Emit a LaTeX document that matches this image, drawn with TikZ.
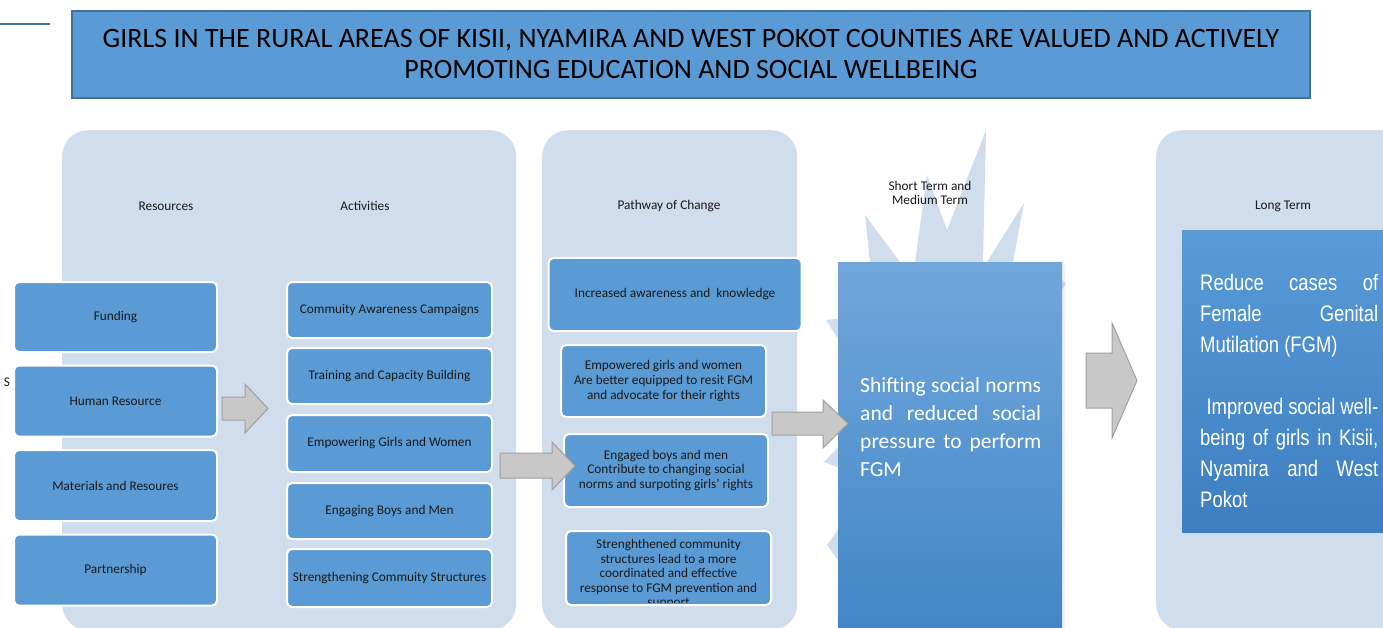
\documentclass[tikz,border=0pt]{standalone}
\usepackage{fontspec}
\setmainfont{Carlito}
\newfontfamily\narrowfont[FakeStretch=0.82]{Liberation Sans}
\usetikzlibrary{calc,shadows}

\definecolor{panelblue}{RGB}{207,221,237}
\definecolor{boxblue}{RGB}{91,155,213}
\definecolor{edgeblue}{RGB}{65,113,156}
\definecolor{arrowgray}{RGB}{200,200,200}
\definecolor{arrowedge}{RGB}{160,160,160}

\begin{document}
\begin{tikzpicture}[x=1pt,y=-1pt]
       \tikzstyle{frame} = [rectangle, draw=edgeblue, line width=1.5pt, fill=boxblue, align=center, inner sep=0pt, font=\fontsize{28}{31}\selectfont];
       \tikzstyle{panel} = [rectangle, fill=panelblue, rounded corners=26pt, anchor=north west, inner sep=0pt, minimum height=500pt];
       \tikzstyle{item} = [rectangle, draw=white, line width=2pt, fill=boxblue, rounded corners=5pt, align=center, inner sep=0pt, text=black!90, font=\fontsize{13.3}{14.7}\selectfont];
       \tikzstyle{head} = [align=center, text=black!90, font=\fontsize{13.3}{14}\selectfont];
       \tikzstyle{bigbox} = [rectangle, anchor=north west, inner sep=0pt];
       \tikzstyle{blockarrow} = [fill=arrowgray, draw=arrowedge, line width=1pt, line join=miter];

       \clip (0,0) rectangle (1383,628);

       % goal
       \coordinate (stub) at (50,24);
       \draw[edgeblue, line width=1.8pt] (0,24) -- (stub);
       \node[frame, minimum width=1238pt, minimum height=87pt] (goal) at (691,54.5)
         {GIRLS IN THE RURAL AREAS OF KISII, NYAMIRA AND WEST POKOT COUNTIES ARE VALUED AND ACTIVELY\\PROMOTING EDUCATION AND SOCIAL WELLBEING};

       % panels
       \node[panel, minimum width=454pt] (inputs) at (62,130) {};
       \node[panel, minimum width=255pt] (pathway) at (542,130) {};
       \node[panel, minimum width=260pt] (longpanel) at (1156,130) {};
       \fill[panelblue] (865,215) -- (900,262) -- (907,275) -- (915,262) -- (927,175) -- (947,230)
         -- (986,130) -- (983,262) -- (985,270) -- (987,262) -- (1024,203) -- (1013,262)
         -- (1062,280) -- (1066,284) -- (1040,320) -- (1040,570) -- (845,570) -- (827,545)
         -- (845,520) -- (845,470) -- (824,462) -- (845,440) -- (845,350) -- (826,320)
         -- (845,318) -- (870,262) -- cycle;

       % column heads
       \node[head] (reshead) at (166,206) {Resources};
       \node[head] (acthead) at (365,206) {Activities};
       \node[head] (pathhead) at (669,206) {Pathway of Change};
       \node[head] (shorthead) at (930,193) {Short Term and\\Medium Term};
       \node[head] (longhead) at (1283,206) {Long Term};
       \node[head] (s) at (7,382) {S};

       % resources
       \node[item, minimum width=203pt, minimum height=70pt] (funding) at (115.5,317) {Funding};
       \node[item, minimum width=203pt, minimum height=71pt] (human) at (115.5,401) {Human Resource};
       \node[item, minimum width=203pt, minimum height=71pt] (materials) at (115.5,485.5) {Materials and Resoures};
       \node[item, minimum width=203pt, minimum height=71pt] (partner) at (115.5,570) {Partnership};

       % activities
       \node[item, minimum width=205pt, minimum height=56pt] (campaign) at (389.5,310) {Commuity Awareness Campaigns};
       \node[item, minimum width=205pt, minimum height=56pt] (training) at (389.5,376) {Training and Capacity Building};
       \node[item, minimum width=205pt, minimum height=57pt] (empower) at (389.5,443.5) {Empowering Girls and Women};
       \node[item, minimum width=205pt, minimum height=56pt] (engage) at (389.5,511) {Engaging Boys and Men};
       \node[item, minimum width=205pt, minimum height=58pt] (structure) at (389.5,578) {Strengthening Commuity Structures};

       % pathway of change
       \node[item, minimum width=253pt, minimum height=73pt] (aware) at (675,294.5) {Increased awareness and\ \ knowledge};
       \node[item, minimum width=205pt, minimum height=72pt] (girls) at (663.5,381)
         {Empowered girls and women\\Are better equipped to resit FGM\\and advocate for their rights};
       \node[item, minimum width=204pt, minimum height=73pt] (boys) at (666,470.5)
         {Engaged boys and men\\Contribute to changing social\\norms and surpoting girls' rights};
       \node[item, minimum width=205pt, minimum height=74pt] (community) at (668.5,568) {};
       \begin{scope}
         \clip[rounded corners=4pt] ($(community.north west)+(1,1)$) rectangle ($(community.south east)+(-1,-4)$);
         \node[head, anchor=north, font=\fontsize{13.3}{14.5}\selectfont] (communitytext) at (668.5,536)
           {Strenghthened community\\structures lead to a more\\coordinated and effective\\response to FGM prevention and\\support};
       \end{scope}

       % outcomes
       \node[bigbox, minimum width=224pt, minimum height=380pt, top color={rgb,255:red,113;green,167;blue,219},
             bottom color={rgb,255:red,64;green,133;blue,199},
             drop shadow={shadow xshift=3pt, shadow yshift=-2pt, opacity=0.12}] (shortbox) at (838,262) {};
       \node[anchor=north west, inner sep=0pt, text width=181pt, align=justify, text=white,
             font=\fontsize{21.5}{28}\selectfont] (shorttext) at (860,377)
         {Shifting social norms\linebreak and reduced social\linebreak pressure to perform\linebreak FGM};
       \node[bigbox, minimum width=220pt, minimum height=302pt, top color={rgb,255:red,89;green,155;blue,216},
             bottom color={rgb,255:red,60;green,126;blue,192}] (longbox) at (1182,230) {};
       \node[anchor=north west, inner sep=0pt, text width=178pt, align=justify, text=white,
             font=\narrowfont\fontsize{22.5}{31}\selectfont] (longtext) at (1200,274)
         {Reduce cases of\linebreak Female Genital\linebreak Mutilation (FGM)\par\vskip 31pt
          \hspace*{0.28em}Improved social well-\linebreak being of girls in Kisii,\linebreak Nyamira and West\linebreak Pokot};

       % block arrows
       \draw[blockarrow] (222,397) -- (245,397) -- (245,384) -- (268,408.5) -- (245,433) -- (245,420) -- (222,420) -- cycle;
       \draw[blockarrow] (500,453) -- (552,453) -- (552,442) -- (575,466) -- (552,490) -- (552,478) -- (500,478) -- cycle;
       \draw[blockarrow] (772,412) -- (823,412) -- (823,400) -- (848,423.5) -- (823,448) -- (823,435) -- (772,435) -- cycle;
       \draw[blockarrow] (1086,353) -- (1112,353) -- (1112,323) -- (1137,380.5) -- (1112,438) -- (1112,408) -- (1086,408) -- cycle;
\end{tikzpicture}
\end{document}
